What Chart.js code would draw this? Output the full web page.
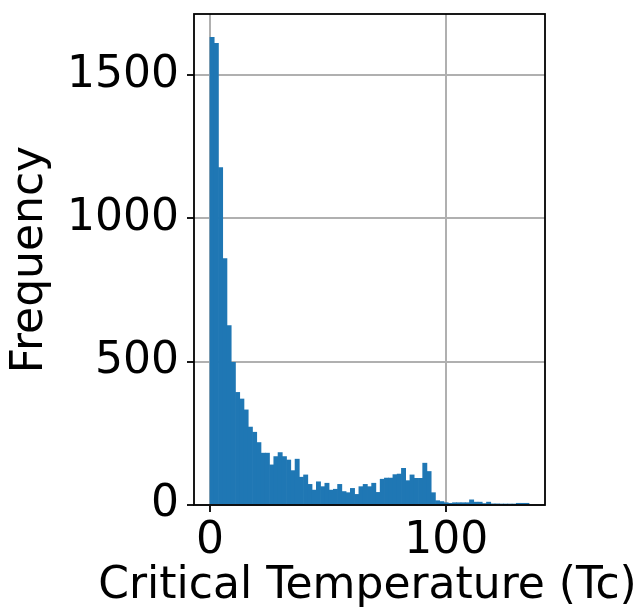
<!DOCTYPE html>
<html>
<head>
<meta charset="utf-8">
<script src="https://cdn.jsdelivr.net/npm/chart.js@4.4.1/dist/chart.umd.min.js"></script>
<style>
  html, body { margin: 0; padding: 0; background: #fff; }
  #wrap { width: 641px; height: 611px; }
</style>
</head>
<body>
<div id="wrap"><canvas id="hist"></canvas></div>
<script>
// histogram of the critical temperature, 75 equal bins
const binStart = 0;
const binWidth = 1.8;
const counts = [
  1632, 1611, 1178, 860, 626, 498, 393, 370, 332, 272,
  254, 218, 181, 181, 140, 169, 183, 169, 157, 120,
  160, 97, 105, 72, 52, 81, 64, 76, 52, 55,
  72, 47, 43, 58, 37, 64, 72, 64, 76, 44,
  90, 94, 94, 106, 108, 128, 85, 105, 93, 93,
  146, 117, 43, 15, 12, 8, 6, 8, 8, 8,
  8, 18, 10, 10, 5, 10, 4, 4, 3, 1,
  3, 1, 6, 6, 6
];
const xTicks = [0, 100];
const yTicks = [0, 500, 1000, 1500];
const xTitle = "Critical Temperature (Tc)";
const yTitle = "Frequency";

const points = counts.map((c, i) => ({ x: binStart + binWidth * (i + 0.5), y: c }));

// matplotlib style margins: 5% on x, 5% above the tallest bar
const xSpan = binWidth * counts.length;
const xMin = binStart - xSpan * 0.05;
const xMax = binStart + xSpan * 1.05;
const yMax = Math.max(...counts) * 1.05;

const fontFamily = "'DejaVu Sans', sans-serif";
const fontSize = 44;
Chart.defaults.font.family = fontFamily;
Chart.defaults.font.size = fontSize;
Chart.defaults.color = "#000";

// top and right spines + the x title (wider than the axes, so not clipped to it)
const frame = {
  id: "frame",
  afterDraw(chart) {
    const { ctx, chartArea: a } = chart;
    ctx.save();
    ctx.strokeStyle = "#000";
    ctx.lineWidth = 1.8;
    ctx.strokeRect(a.left, a.top, a.right - a.left, a.bottom - a.top);

    ctx.fillStyle = "#000";
    ctx.font = fontSize + "px " + fontFamily;
    ctx.textAlign = "center";
    ctx.textBaseline = "alphabetic";
    ctx.fillText(xTitle, (a.left + a.right) / 2 - 2, 598);
    ctx.restore();
  },
};

const ctx = document.getElementById("hist");

new Chart(ctx, {
  type: "bar",
  data: {
    datasets: [
      {
        data: points,
        backgroundColor: "#1f77b4",
        borderWidth: 0,
        barPercentage: 1,
        categoryPercentage: 1,
      },
    ],
  },
  options: {
    responsive: true,
    maintainAspectRatio: false,
    animation: false,
    layout: { padding: { top: 14, right: 96, left: 0, bottom: 0 } },
    plugins: {
      legend: { display: false },
      tooltip: { enabled: false },
    },
    scales: {
      x: {
        type: "linear",
        min: xMin,
        max: xMax,
        offset: false,
        z: 1,
        grid: { offset: false, color: "#b0b0b0", lineWidth: 2, tickLength: 7, tickColor: "#000", tickWidth: 1.8 },
        border: { display: false },
        ticks: { padding: 3, callback: (v) => String(v) },
        afterBuildTicks: (scale) => {
          scale.ticks = xTicks.map((v) => ({ value: v }));
        },
        afterFit: (scale) => {
          scale.height = 106;
          scale.paddingLeft = 0;
          scale.paddingRight = 0;
        },
        title: { display: false },
      },
      y: {
        min: 0,
        max: yMax,
        z: 1,
        grid: { color: "#b0b0b0", lineWidth: 2, tickLength: 7, tickColor: "#000", tickWidth: 1.8 },
        border: { display: false },
        ticks: { padding: 8, callback: (v) => String(v) },
        afterBuildTicks: (scale) => {
          scale.ticks = yTicks.map((v) => ({ value: v }));
        },
        afterFit: (scale) => {
          scale.width = 194;
          scale.paddingTop = 0;
          scale.paddingBottom = 0;
        },
        title: { display: true, text: yTitle, padding: { top: 4, bottom: 0 } },
      },
    },
  },
  plugins: [frame],
});
</script>
</body>
</html>
